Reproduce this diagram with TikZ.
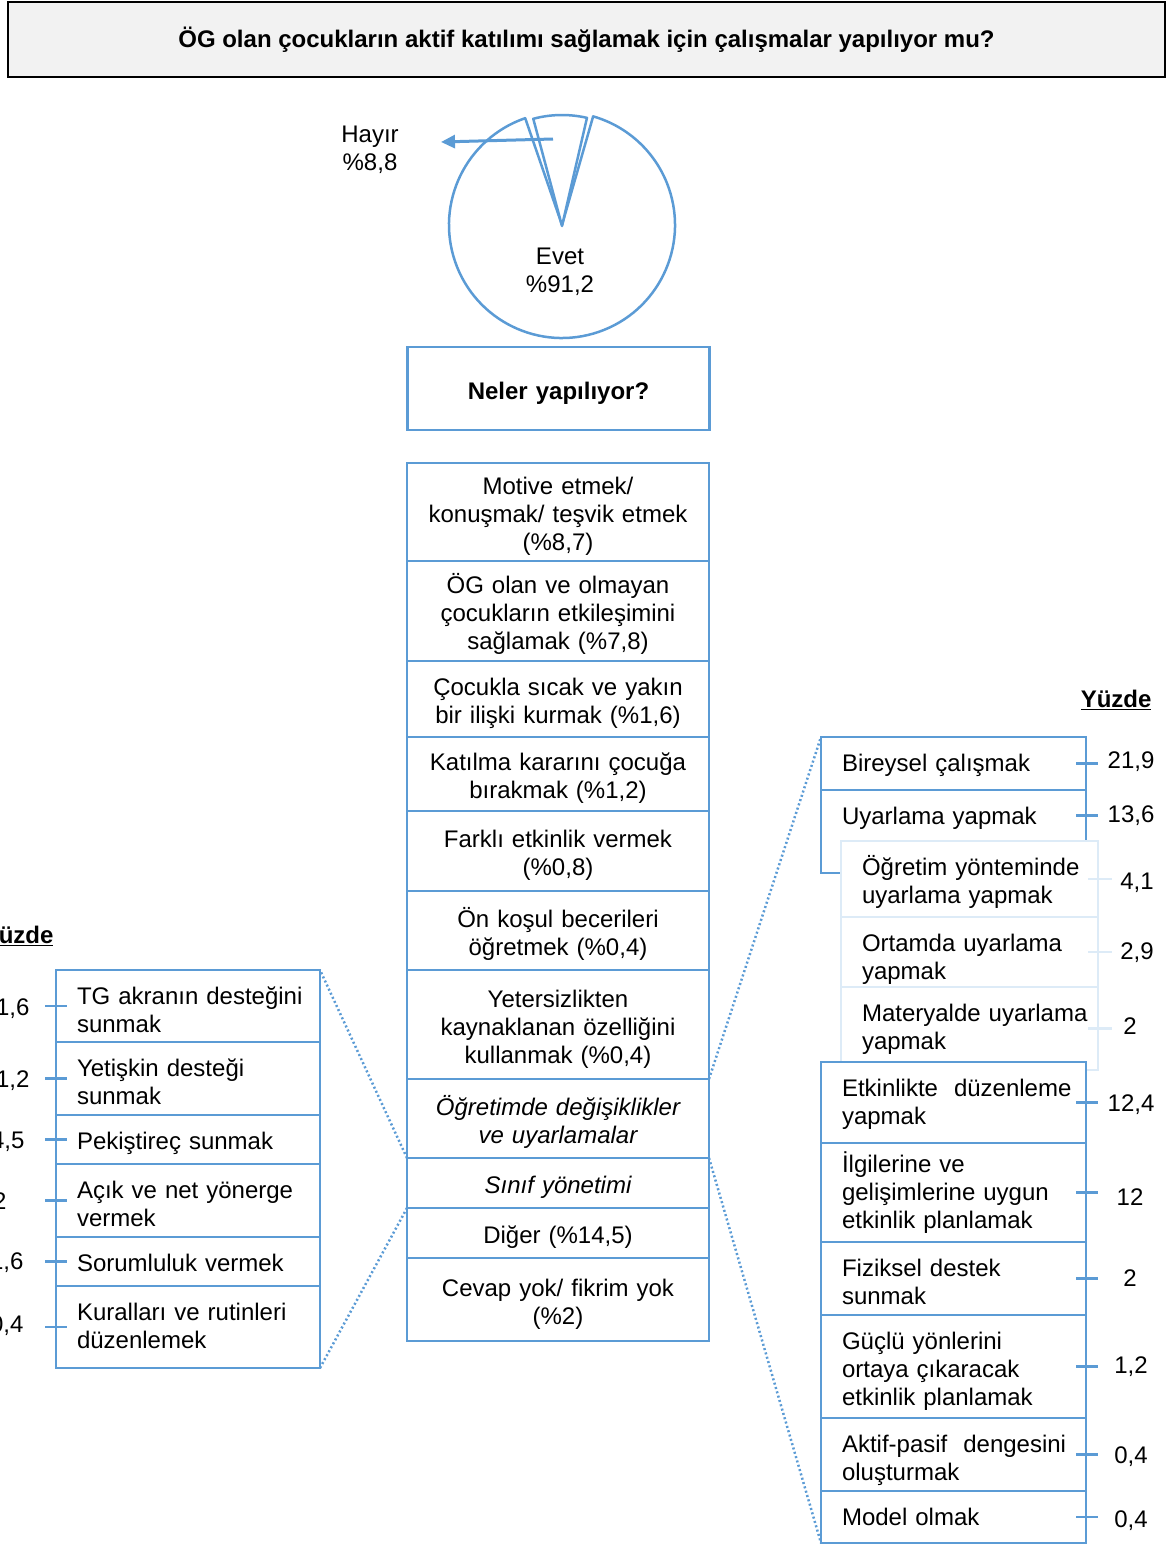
\documentclass[tikz,border=0pt]{standalone}
\usepackage{fontspec}
\setmainfont{Liberation Sans}
\usetikzlibrary{positioning,arrows.meta}
\definecolor{boxc}{HTML}{5B9BD5}
\definecolor{softc}{HTML}{DDEBF7}
\definecolor{headc}{HTML}{F2F2F2}
\tikzset{
  every node/.style={font=\fontsize{24}{28}\selectfont},
  bold/.style={font=\fontsize{24}{28}\selectfont\bfseries},
  ital/.style={font=\fontsize{24}{28}\selectfont\itshape},
  mbox/.style={draw=boxc, line width=2.5pt, fill=white, minimum width=302pt, text width=290pt, text height=26pt, align=center, inner sep=0pt, outer sep=0pt},
  % side boxes: text hangs from the top edge
  sbox/.style={draw=boxc, line width=2.5pt, fill=white, minimum width=265pt, text width=265pt, minimum height=#1, text height=34pt, text depth=#1-34pt, inner sep=0pt, align=left, outer sep=0pt,
    execute at begin node={\leftskip=21pt\relax\hyphenpenalty=10000\relax}},
  lbox/.style={sbox=#1, draw=softc, minimum width=257pt, text width=257pt},
  tick/.style={draw=boxc, line width=2.5pt},
  softtick/.style={draw=softc, line width=2.5pt},
  link/.style={draw=boxc, line width=2.5pt, dash pattern=on 2pt off 2.5pt},
  pie/.style={draw=boxc, line width=2.5pt, line join=round, fill=white},
  arr/.style={draw=boxc, line width=3pt, -{Triangle[length=14pt,width=13pt]}},
}

\begin{document}
\begin{tikzpicture}[x=1pt, y=-1pt]
\useasboundingbox (0,0) rectangle (1167,1545);
% question
\node[draw=black, fill=headc, line width=2.5pt, minimum width=1157pt, minimum height=75pt, bold] (title) at (586.5,39.5) {ÖG olan çocukların aktif katılımı sağlamak için çalışmalar yapılıyor mu?};
% pie
\begin{scope}[shift={(562,225)}, yscale=-1]
  \draw[pie] (0,0) -- (109:113) arc[start angle=109, end angle=434, radius=113] -- cycle;
  \draw[pie] (0,-1) -- ++(105:111) arc[start angle=105, end angle=77, radius=111] -- cycle;
\end{scope}
\node[align=center] (evet) at (560,272) {Evet\\\%91,2};
\node[align=center] (hayir) at (370,150) {Hayır\\\%8,8};
\coordinate (slicein) at (553,139);
\coordinate (arrtip) at (441,142);
\draw[arr] (slicein) -- (arrtip);
\node[mbox, minimum height=83pt, bold] (neler) at (558.5,388.5) {Neler yapılıyor?};
% middle column
\node[mbox, minimum height=98pt, anchor=north] (motive) at (558,463) {Motive etmek/\\konuşmak/ teşvik etmek\\(\%8,7)};
\node[mbox, minimum height=100pt, below=0pt of motive] (etkiles) {ÖG olan ve olmayan\\çocukların etkileşimini\\sağlamak (\%7,8)};
\node[mbox, minimum height=76pt, below=0pt of etkiles] (sicak) {Çocukla sıcak ve yakın\\bir ilişki kurmak (\%1,6)};
\node[mbox, minimum height=74pt, below=0pt of sicak] (karar) {Katılma kararını çocuğa\\bırakmak (\%1,2)};
\node[mbox, minimum height=80pt, below=0pt of karar] (farkli) {Farklı etkinlik vermek\\(\%0,8)};
\node[mbox, minimum height=79pt, below=0pt of farkli] (onkosul) {Ön koşul becerileri\\öğretmek (\%0,4)};
\node[mbox, minimum height=109pt, below=0pt of onkosul] (yeter) {Yetersizlikten\\kaynaklanan özelliğini\\kullanmak (\%0,4)};
\node[mbox, minimum height=79pt, below=0pt of yeter, ital] (ogretimde) {Öğretimde değişiklikler\\ve uyarlamalar};
\node[mbox, minimum height=50pt, below=0pt of ogretimde, ital] (sinif) {Sınıf yönetimi};
\node[mbox, minimum height=50pt, below=0pt of sinif] (diger) {Diğer (\%14,5)};
\node[mbox, minimum height=83pt, below=0pt of diger] (cevap) {Cevap yok/ fikrim yok\\(\%2)};
% left column: sinif yonetimi
\node[anchor=east, bold] (yuzdeL) at (57,936) {\underline{Yüzde}};
\node[sbox=72, minimum width=264pt, text width=264pt, anchor=north west] (tgakran) at (56,970) {TG akranın desteğini\\sunmak};
\node[sbox=73, minimum width=264pt, text width=264pt, below=0pt of tgakran] (yetiskin) {Yetişkin desteği\\sunmak};
\node[sbox=49, minimum width=264pt, text width=264pt, below=0pt of yetiskin] (pekis) {Pekiştireç sunmak};
\node[sbox=73, minimum width=264pt, text width=264pt, below=0pt of pekis] (yonerge) {Açık ve net yönerge\\vermek};
\node[sbox=49, minimum width=264pt, text width=264pt, below=0pt of yonerge] (soruml) {Sorumluluk vermek};
\node[sbox=82, minimum width=264pt, text width=264pt, below=0pt of soruml] (kural) {Kuralları ve rutinleri\\düzenlemek};
\draw[tick] ([xshift=-11pt]tgakran.west) -- ++(22,0);
\draw[tick] ([xshift=-11pt]yetiskin.west) -- ++(22,0);
\draw[tick] ([xshift=-11pt]pekis.west) -- ++(22,0);
\draw[tick] ([xshift=-11pt]yonerge.west) -- ++(22,0);
\draw[tick] ([xshift=-11pt]soruml.west) -- ++(22,0);
\draw[tick] ([xshift=-11pt]kural.west) -- ++(22,0);
\node[anchor=east] (l1) at (33,1009) {1,6};
\node[anchor=east] (l2) at (33,1081) {1,2};
\node[anchor=east] (l3) at (28,1142) {4,5};
\node[anchor=east] (l4) at (10,1201) {2};
\node[anchor=east] (l5) at (27,1263) {1,6};
\node[anchor=east] (l6) at (27,1326) {0,4};
% right column: ogretimde degisiklikler
\node[anchor=east, bold] (yuzdeR) at (1155,700) {\underline{Yüzde}};
\node[sbox=53, anchor=north west] (bireysel) at (821,737) {Bireysel çalışmak};
\node[sbox=51, draw=none, fill=none, below=0pt of bireysel] (uyarla) {Uyarlama yapmak};
\draw[tick, line join=miter] (uyarla.south east) -- (uyarla.north east);
\draw[tick, line join=miter] (uyarla.north west) -- ++(0,83) -- ++(20,0);
\node[lbox=76, anchor=north west] (yontem) at (841,841) {Öğretim yönteminde\\uyarlama yapmak};
\node[lbox=70, below=0pt of yontem] (ortam) {Ortamda uyarlama\\yapmak};
\node[lbox=83, below=0pt of ortam] (materyal) {Materyalde uyarlama\\yapmak};
\node[sbox=81, anchor=north west] (etkinlik) at (821,1062) {Etkinlikte~ düzenleme\\yapmak};
\node[sbox=99, text height=29pt, text depth=70pt, below=0pt of etkinlik] (ilgi) {İlgilerine ve\\gelişimlerine uygun\\etkinlik planlamak};
\node[sbox=73, below=0pt of ilgi] (fiziksel) {Fiziksel destek\\sunmak};
\node[sbox=103, below=0pt of fiziksel] (guclu) {Güçlü yönlerini\\ortaya çıkaracak\\etkinlik planlamak};
\node[sbox=73, below=0pt of guclu] (aktif) {Aktif-pasif~ dengesini\\oluşturmak};
\node[sbox=52, below=0pt of aktif] (model) {Model olmak};
\draw[tick] ([xshift=-10pt]bireysel.east) -- ++(22,0);
\draw[tick] ([xshift=-10pt]uyarla.east) -- ++(22,0);
\draw[softtick] ([xshift=-10pt]yontem.east) -- ++(24,0);
\draw[softtick] ([xshift=-10pt]ortam.east) -- ++(24,0);
\draw[softtick] ([xshift=-10pt]materyal.east) -- ++(24,0);
\draw[tick] ([xshift=-10pt]etkinlik.east) -- ++(22,0);
\draw[tick] ([xshift=-10pt]ilgi.east) -- ++(22,0);
\draw[tick] ([xshift=-10pt]fiziksel.east) -- ++(22,0);
\draw[tick] ([xshift=-10pt]guclu.east) -- ++(22,0);
\draw[tick] ([xshift=-10pt]aktif.east) -- ++(22,0);
\draw[tick] ([xshift=-10pt]model.east) -- ++(22,0);
\node (r1) at (1131,762) {21,9};
\node (r2) at (1131,816) {13,6};
\node (r3) at (1137,883) {4,1};
\node (r4) at (1137,953) {2,9};
\node (r5) at (1130,1026) {2};
\node (r6) at (1131,1105) {12,4};
\node (r7) at (1130,1197) {12};
\node (r8) at (1130,1278) {2};
\node (r9) at (1131,1367) {1,2};
\node (r10) at (1131,1457) {0,4};
\node (r11) at (1131,1521) {0,4};
% dotted links
\draw[link] (ogretimde.north east) -- (bireysel.north west);
\draw[link] (ogretimde.south east) -- (model.south west);
\draw[link] (sinif.north west) -- (tgakran.north east);
\draw[link] (sinif.south west) -- (kural.south east);
\end{tikzpicture}
\end{document}
